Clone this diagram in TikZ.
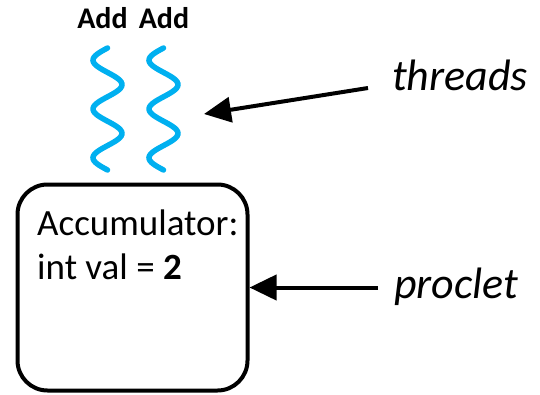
\documentclass[tikz,border=0pt]{standalone}
\usepackage{fontspec}
\setmainfont{Carlito}
\usepackage{tikz}
\usetikzlibrary{arrows.meta, positioning}

\definecolor{threadblue}{RGB}{0,176,240}

\begin{document}
\begin{tikzpicture}[
  x=1pt, y=-1pt,
  proc/.style={draw, line width=4pt, rounded corners=30pt, minimum width=230pt, minimum height=206pt, inner sep=0pt},
  body/.style={font=\fontsize{37}{44}\selectfont, inner sep=0pt},
  addlbl/.style={font=\fontsize{30}{36}\selectfont\bfseries, inner sep=0pt},
  side/.style={font=\fontsize{44}{52}\selectfont\itshape, inner sep=0pt},
  wave/.style={threadblue, line width=5.5pt, line cap=round},
  ar/.style={-{Triangle[length=27pt, width=25pt]}, line width=4pt}
]
\useasboundingbox (0,0) rectangle (540,394);
% proclet box
\node[proc] (acc) at (132.5,287.5) {};
\node[body, anchor=base west] (accname) at (37,235) {Accumulator:};
\node[body, anchor=base west] (accval) at (37,279) {int val = \textbf{2}};
% threads
\foreach \cx in {107.5,163.5}
  \draw[wave] plot[domain=48:170, samples=80, smooth] ({\cx - 14.5*sin(7.377*(\x-48))}, \x);
\node[addlbl, anchor=base] (add1) at (102.5,28) {Add};
\node[addlbl, anchor=base] (add2) at (164,28) {Add};
% labels
\node[side, anchor=base west] (threads) at (392,90) {threads};
\node[side, anchor=base west] (proclet) at (394,298) {proclet};
\coordinate (thtip) at (204,114);
\draw[ar] ([xshift=-24pt, yshift=2pt]threads.base west) -- (thtip);
\draw[ar] (proclet.west |- acc.east) ++(-16,0) -- (acc.east);
\end{tikzpicture}
\end{document}
